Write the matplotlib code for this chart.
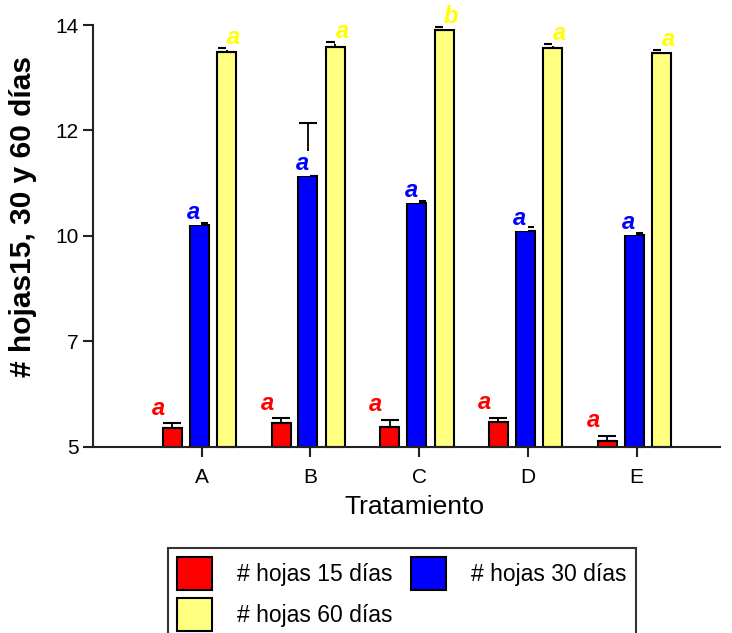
import matplotlib
matplotlib.use("Agg")
import matplotlib.pyplot as plt
import numpy as np
from matplotlib.patches import Patch

plt.rcParams['font.family'] = ['Liberation Sans', 'DejaVu Sans']

categories = ["A", "B", "C", "D", "E"]
series_names = ["# hojas 15 días", "# hojas 30 días", "# hojas 60 días"]
h15 = [5.41, 5.51, 5.43, 5.53, 5.13]
h15_err = [0.09, 0.10, 0.15, 0.09, 0.10]
h30 = [9.73, 10.78, 10.20, 9.61, 9.52]
h30_err = [0.04, 1.13, 0.05, 0.09, 0.05]
h60 = [13.42, 13.53, 13.90, 13.50, 13.40]
h60_err = [0.08, 0.10, 0.05, 0.09, 0.06]
letters15 = ["a", "a", "a", "a", "a"]
letters30 = ["a", "a", "a", "a", "a"]
letters60 = ["a", "a", "b", "a", "a"]
ytick_vals = [5, 7.25, 9.5, 11.75, 14]
ytick_labels = ["5", "7", "10", "12", "14"]

fig = plt.figure(figsize=(7.32, 6.33), dpi=100)
ax = fig.add_axes([0.127, 0.294, 0.857, 0.6665])

x = np.arange(len(categories))
offsets = [-0.27, -0.023, 0.23]
width = 0.175
fills = ["#FF0000", "#0000FF", "#FFFF80"]
txtcol = ["#FF0000", "#0000FF", "#FFFF00"]
vals = [h15, h30, h60]
errs = [h15_err, h30_err, h60_err]
letters = [letters15, letters30, letters60]
# letter offsets (points): x, y above top
lx = [-10, -4, 5]
ly = [11, 9, 8]

for i in range(3):
    xs = x + offsets[i]
    ax.bar(xs, np.array(vals[i]) - 5, bottom=5, width=width, color=fills[i],
           edgecolor="black", linewidth=1.5, zorder=2, clip_on=False)
    ax.errorbar(xs, vals[i], yerr=[np.zeros(5), errs[i]], fmt="none",
                ecolor="black", elinewidth=1.3, capsize=6.5, capthick=1.5,
                zorder=3, clip_on=False)
    for j in range(5):
        top = vals[i][j] + (errs[i][j] if i != 1 else 0)
        ax.annotate(letters[i][j], (xs[j], top), xytext=(lx[i], ly[i]),
                    textcoords="offset points", ha="center", va="center",
                    color=txtcol[i], fontsize=17, fontstyle="italic",
                    fontweight="bold", zorder=4, annotation_clip=False,
                    bbox=dict(boxstyle="square,pad=0.05", fc="white", ec="none"))

ax.set_xlim(-1.0, 4.77)
ax.set_ylim(5, 14)
ax.set_yticks(ytick_vals)
ax.set_yticklabels(ytick_labels)
ax.set_xticks(x)
ax.set_xticklabels(categories)
for s in ["top", "right"]:
    ax.spines[s].set_visible(False)
for s in ["left", "bottom"]:
    ax.spines[s].set_linewidth(1.5)
    ax.spines[s].set_color("#222222")
ax.tick_params(axis="both", direction="out", length=7, width=1.5,
               labelsize=15, color="#222222")
ax.tick_params(axis="x", pad=8)
ax.set_xlabel("Tratamiento", fontsize=19, va="center")
ax.xaxis.set_label_coords(0.513, -0.142)
ax.set_ylabel("# hojas15, 30 y 60 días", fontsize=21.5, fontweight="bold",
              va="center")
ax.yaxis.set_label_coords(-0.112, 0.545)

handles = [Patch(facecolor=fills[k], edgecolor="black", linewidth=1.5) for k in range(3)]
leg = fig.legend([handles[0], handles[2], handles[1]],
                 [series_names[0], series_names[2], series_names[1]],
                 loc="upper left", bbox_to_anchor=(168 / 732, (633 - 548) / 633), ncol=2,
                 fontsize=16.5, handlelength=1.53, handleheight=1.84,
                 handletextpad=1.09, columnspacing=0.79, labelspacing=0.35,
                 fancybox=False, edgecolor="#333333", framealpha=1,
                 borderpad=0.4, borderaxespad=0)
leg.get_frame().set_linewidth(1.5)

fig.savefig("out.png", dpi=100)
